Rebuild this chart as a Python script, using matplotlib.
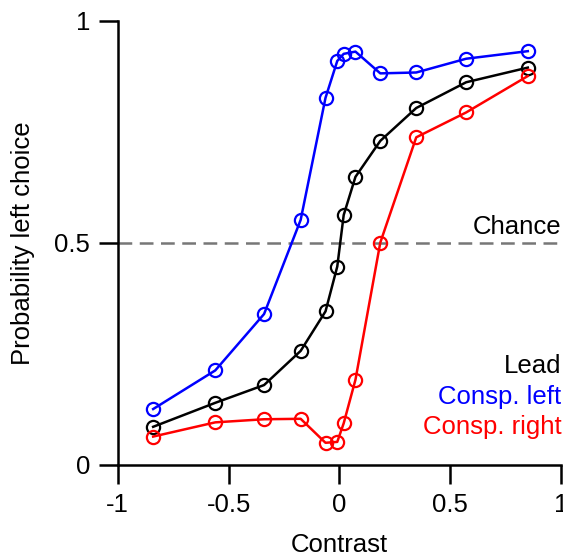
import numpy as np
import matplotlib
matplotlib.use("Agg")
import matplotlib.pyplot as plt

plt.rcParams['font.family'] = ['Liberation Sans', 'DejaVu Sans']

# binned contrast values and choice probabilities
contrast = [-0.84, -0.56, -0.34, -0.175, -0.063, -0.01, 0.019, 0.072, 0.184, 0.346, 0.571, 0.849]
p_lead = [0.086, 0.140, 0.180, 0.257, 0.346, 0.447, 0.563, 0.649, 0.730, 0.804, 0.862, 0.895]
p_consp_left = [0.126, 0.213, 0.340, 0.552, 0.827, 0.910, 0.926, 0.931, 0.882, 0.884, 0.915, 0.932]
p_consp_right = [0.064, 0.096, 0.103, 0.104, 0.050, 0.052, 0.094, 0.192, 0.501, 0.738, 0.794, 0.876]

series_names = ["Lead", "Consp. left", "Consp. right"]
series_colors = ["black", "#0000ff", "#ff0000"]

x_ticks = [-1, -0.5, 0, 0.5, 1]
x_ticklabels = ["-1", "-0.5", "0", "0.5", "1"]
y_ticks = [0, 0.5, 1]
y_ticklabels = ["0", "0.5", "1"]

fs = 18.5

fig = plt.figure(figsize=(5.63, 5.58), dpi=100)
ax = fig.add_axes([0.209, 0.1667, 0.788, 0.7957])

# chance level
ax.plot([-1, 1], [0.5, 0.5], color='#777777', lw=1.8, dashes=(5.5, 3), zorder=1)
ax.text(1, 0.51, "Chance", ha='right', va='bottom', fontsize=fs)

for y, name, c in zip([p_lead, p_consp_left, p_consp_right], series_names, series_colors):
    ax.plot(contrast, y, '-o', color=c, lw=1.8, ms=9.5, mfc='none', mew=1.6,
            clip_on=False, zorder=3)

# text legend
for i, (name, c) in enumerate(zip(series_names, series_colors)):
    ax.text(1, 0.222 - i * 0.068, name, color=c, ha='right', va='center', fontsize=fs)

ax.set_xlim(-1, 1)
ax.set_ylim(0, 1)
ax.set_xticks(x_ticks)
ax.set_xticklabels(x_ticklabels)
ax.set_yticks(y_ticks)
ax.set_yticklabels(y_ticklabels)
ax.set_xlabel("Contrast", fontsize=fs, labelpad=12)
ax.set_ylabel("Probability left choice", fontsize=fs, labelpad=14)

for s in ['top', 'right']:
    ax.spines[s].set_visible(False)
for s in ['left', 'bottom']:
    ax.spines[s].set_linewidth(1.8)
ax.tick_params(direction='out', length=14, width=1.8, labelsize=fs, pad=6)

fig.savefig("out.png", dpi=100)
